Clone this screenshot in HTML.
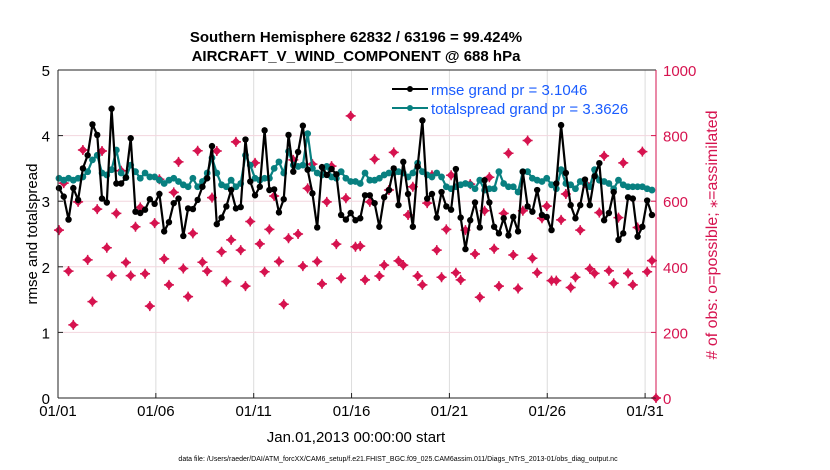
<!DOCTYPE html>
<html><head><meta charset="utf-8"><style>
body{margin:0;background:#fff;font-family:"Liberation Sans",Arial,sans-serif;}
svg{display:block}
</style></head><body>
<svg id="chart" width="830" height="470" viewBox="0 0 830 470" xmlns="http://www.w3.org/2000/svg">
<text x="356" y="42" text-anchor="middle" font-size="15" font-weight="bold">Southern Hemisphere 62832 / 63196 = 99.424%</text>
<text x="356" y="61" text-anchor="middle" font-size="15" font-weight="bold">AIRCRAFT_V_WIND_COMPONENT @ 688 hPa</text>
<g id="grid"></g>
<g id="obs"></g>
<g id="spread"></g>
<g id="rmse"></g>
<g id="axes"></g>
<g>
<line x1="392" y1="89" x2="428" y2="89" stroke="#000" stroke-width="2"/><circle cx="410" cy="89" r="3" fill="#000"/>
<text x="431" y="95" font-size="15" fill="#1a5cff">rmse grand pr = 3.1046</text>
<line x1="392" y1="108" x2="428" y2="108" stroke="#088080" stroke-width="2"/><circle cx="410" cy="108" r="3" fill="#088080"/>
<text x="431" y="114" font-size="15" fill="#1a5cff">totalspread grand pr = 3.3626</text>
</g>
<text transform="translate(37,234) rotate(-90)" text-anchor="middle" font-size="15">rmse and totalspread</text>
<text transform="translate(717,235) rotate(-90)" text-anchor="middle" font-size="16" fill="#d6134f"># of obs: o=possible; ⁎=assimilated</text>
<text x="356" y="442" text-anchor="middle" font-size="15">Jan.01,2013 00:00:00 start</text>
<text x="398" y="461" text-anchor="middle" font-size="7">data file: /Users/raeder/DAI/ATM_forcXX/CAM6_setup/f.e21.FHIST_BGC.f09_025.CAM6assim.011/Diags_NTrS_2013-01/obs_diag_output.nc</text>
</svg>
<script>
const rmse=[3.20,3.07,2.72,3.20,3.02,3.50,3.70,4.17,4.01,3.04,2.98,4.41,3.27,3.27,3.36,3.96,2.84,2.82,2.87,3.03,2.96,3.11,2.54,2.68,2.97,3.04,2.47,2.89,2.88,3.02,3.22,3.35,
3.84,2.65,2.75,2.92,3.17,2.89,2.91,3.94,3.30,3.09,3.22,4.08,3.17,3.18,2.83,3.03,4.01,3.45,3.75,4.15,3.48,3.12,2.60,3.52,3.40,3.49,3.41,2.79,2.72,2.82,2.71,
2.74,3.09,3.09,2.97,2.61,3.06,3.17,3.50,2.94,3.60,3.11,2.61,3.53,4.23,3.04,3.11,2.75,3.14,2.92,2.87,3.49,2.75,2.27,2.71,2.98,2.60,3.32,2.98,2.61,2.51,2.74,2.48,
2.76,2.54,3.45,2.92,2.84,3.17,2.79,2.76,2.56,3.27,4.16,3.43,2.94,2.74,2.94,3.33,2.94,3.38,3.58,2.71,2.82,3.14,2.41,2.51,3.06,3.04,2.46,2.61,3.01,2.79];
const spread=[3.35,3.32,3.35,3.32,3.35,3.37,3.45,3.63,3.70,3.43,3.40,3.48,3.78,3.43,3.36,3.55,3.45,3.35,3.43,3.37,3.37,3.32,3.27,3.32,3.35,3.30,3.25,3.22,3.35,3.22,3.30,3.43,
3.66,3.43,3.25,3.22,3.32,3.22,3.27,3.70,3.55,3.35,3.32,3.35,3.35,3.50,3.60,3.43,3.76,3.55,3.53,3.55,4.03,3.50,3.43,3.40,3.53,3.37,3.35,3.45,3.35,3.30,
3.30,3.27,3.43,3.32,3.32,3.35,3.40,3.43,3.43,3.45,3.43,3.37,3.43,3.58,3.45,3.40,3.37,3.43,3.37,3.22,3.19,3.22,3.25,3.27,3.25,3.19,3.32,3.17,3.19,3.19,3.45,3.27,
3.22,3.22,3.14,3.45,3.45,3.35,3.32,3.30,3.35,3.25,3.19,3.48,3.27,3.25,3.19,3.30,3.27,3.22,3.48,3.32,3.30,3.27,3.19,3.32,3.25,3.22,3.22,3.22,3.22,3.19,3.17];
const obsCount=[512,655,387,223,598,756,421,294,576,753,458,373,563,693,413,373,522,581,379,280,533,667,424,345,627,720,395,309,502,754,414,387,
611,753,446,355,482,781,451,341,538,717,470,385,514,616,416,286,487,726,500,402,639,713,416,348,598,707,469,365,609,860,461,
463,360,598,728,372,405,634,749,418,405,558,644,372,345,594,679,451,368,514,679,382,360,512,652,439,307,571,673,455,341,563,746,436,
334,571,785,426,382,548,585,358,358,543,622,337,368,512,655,394,380,565,738,388,350,550,717,380,345,520,751,385,419,0];
const xTicks=["01/01","01/06","01/11","01/16","01/21","01/26","01/31"];
const xTickDays=[0,5,10,15,20,25,30];
const yLeftTicks=[0,1,2,3,4,5];
const yRightTicks=[0,200,400,600,800,1000];

const NS="http://www.w3.org/2000/svg";
const L=58,R=656,T=70,B=398,DAY=19.57;
const xDay=d=>L+d*DAY;
const yL=v=>B-(v/5)*(B-T);
const yR=v=>B-(v/1000)*(B-T);
const tFirst=0.05,tLast=30.35;
const tAt=(i,n)=>tFirst+i*(tLast-tFirst)/(n-1);
function mk(tag,attrs,parent){const e=document.createElementNS(NS,tag);for(const k in attrs)e.setAttribute(k,attrs[k]);parent.appendChild(e);return e;}
const grid=document.getElementById('grid'),axes=document.getElementById('axes');
xTickDays.forEach((d,i)=>{
 const g=mk('line',{x1:xDay(d),x2:xDay(d),y1:T,y2:B,stroke:'#dcdcdc','stroke-width':1},grid);
 
 
 mk('line',{x1:xDay(d),x2:xDay(d),y1:B,y2:B-5,stroke:'#222'},axes);
 const t=mk('text',{x:xDay(d),y:B+18,'text-anchor':'middle','font-size':15},axes);t.textContent=xTicks[i];
 
 
});
yRightTicks.forEach(v=>{
 const g=mk('line',{x1:L,x2:R,y1:yR(v),y2:yR(v),stroke:'#f2d6de','stroke-width':1},grid);
 
 
 mk('line',{x1:R-5,x2:R,y1:yR(v),y2:yR(v),stroke:'#d6134f'},axes);
 const t=mk('text',{x:R+7,y:yR(v)+6,'font-size':15,fill:'#d6134f'},axes);t.textContent=v;
 
 
});
yLeftTicks.forEach(v=>{
 mk('line',{x1:L,x2:L+5,y1:yL(v),y2:yL(v),stroke:'#222'},axes);
 const t=mk('text',{x:L-8,y:yL(v)+6,'text-anchor':'end','font-size':15},axes);t.textContent=v;
 
 
});
mk('line',{x1:L,x2:R,y1:T,y2:T,stroke:'#222'},axes);
mk('line',{x1:L,x2:R,y1:B,y2:B,stroke:'#222'},axes);
mk('line',{x1:L,x2:L,y1:T,y2:B,stroke:'#222'},axes);
mk('line',{x1:R,x2:R,y1:T,y2:B,stroke:'#d6134f'},axes);

const og=document.getElementById('obs');
obsCount.forEach((v,i)=>{
 const x=(i===obsCount.length-1)?R:xDay(tAt(i,obsCount.length-1)),y=yR(v);
 const g=mk('g',{},og);
 
 
 mk('path',{d:`M${x} ${y-4.5}L${x+4.5} ${y}L${x} ${y+4.5}L${x-4.5} ${y}Z`,fill:'#d6134f'},g);
 mk('path',{d:`M${x-5} ${y}H${x+5}M${x} ${y-5}V${y+5}`,stroke:'#d6134f','stroke-width':1.5},g);
});
function series(arr,id,color,r){
 const g=document.getElementById(id);
 const pts=arr.map((v,i)=>[xDay(tAt(i,arr.length)),yL(v)]);
 mk('polyline',{points:pts.map(p=>p.join(',')).join(' '),fill:'none',stroke:color,'stroke-width':2.2},g);
 pts.forEach(p=>{const c=mk('circle',{cx:p[0],cy:p[1],r:r,fill:color},g);
 
 });
}
series(spread,'spread','#088080',3.4);
series(rmse,'rmse','#000',3.2);
</script>
</body></html>
